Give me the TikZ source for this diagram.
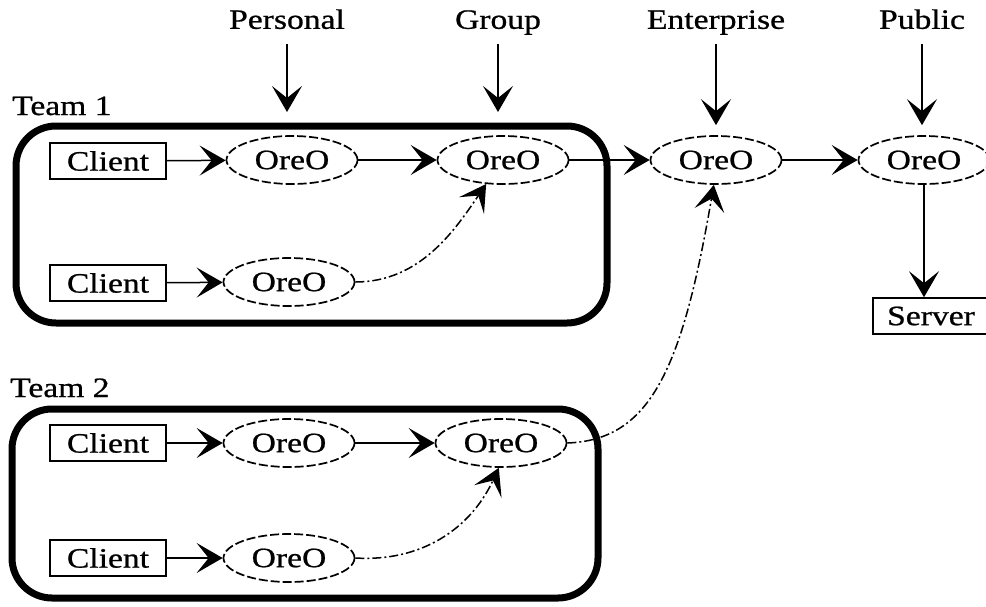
\documentclass[tikz,border=0pt]{standalone}
\usepackage{fontspec}
\newfontfamily\diagfont[FakeStretch=1.2,FakeBold=0.8]{Liberation Serif}
\usetikzlibrary{arrows.meta,shapes.geometric}

\tikzset{
  txt/.style={font=\diagfont\fontsize{28}{32}\selectfont, inner sep=0pt},
  oreo/.style={txt, ellipse, draw, line width=1.7pt, dash pattern=on 9pt off 3pt,
    minimum width=131pt, minimum height=48pt},
  client/.style={txt, rectangle, draw, line width=1.6pt,
    minimum width=116pt, minimum height=36pt},
  teambox/.style={draw, line width=7pt, rounded corners=40pt, inner sep=0pt},
  toplabel/.style={txt, anchor=south, text height=20pt, text depth=7pt},
  tip/.style={-{Stealth[length=26pt,width=30pt,inset=12pt]}},
  flow/.style={tip, line width=1.5pt},
  dflow/.style={tip, line width=1.5pt, dash pattern=on 9pt off 3pt on 2pt off 3pt},
}

\begin{document}
\begin{tikzpicture}[x=1pt,y=-1pt]
\useasboundingbox (0,0) rectangle (986,606);

% team frames
\node[teambox, minimum width=591pt, minimum height=197pt] (team1) at (311.5,224.5) {};
\node[teambox, minimum width=586pt, minimum height=189pt] (team2) at (305,503.5) {};
\node[txt, anchor=base west] (team1lbl) at (12,115) {Team 1};
\node[txt, anchor=base west] (team2lbl) at (10,397) {Team 2};

% level labels
\node[toplabel] (lPers) at (287,36) {Personal};
\node[toplabel] (lGrp)  at (498,36) {Group};
\node[toplabel] (lEnt)  at (716,36) {Enterprise};
\node[toplabel] (lPub)  at (922,36) {Public};
\coordinate (pPers) at (287,112);
\coordinate (pGrp)  at (498,112);

% team 1
\node[client] (c1) at (108,161) {Client};
\node[client] (c2) at (108,283) {Client};
\node[oreo] (o1) at (292,160) {OreO};
\node[oreo] (o2) at (503,160) {OreO};
\node[oreo] (o3) at (289,282) {OreO};

% shared servers
\node[oreo] (oE) at (716,160) {OreO};
\node[oreo] (oP) at (924,160) {OreO};
\node[client] (srv) at (931,316) {Server};

% team 2
\node[client] (c3) at (108,443) {Client};
\node[client] (c4) at (108,558) {Client};
\node[oreo] (o4) at (289,443) {OreO};
\node[oreo] (o5) at (501,443) {OreO};
\node[oreo] (o6) at (289,558) {OreO};

% level arrows
\draw[flow, shorten <=8pt] (lPers.south) -- (pPers);
\draw[flow, shorten <=8pt] (lGrp.south) -- (pGrp);
\draw[flow, shorten <=8pt, shorten >=10pt] (lEnt.south) -- (oE.north);
\draw[flow, shorten <=8pt, shorten >=10pt] (lPub.south) -- (lPub.south |- oP.north);

% team 1 flows
\draw[flow] (c1) -- (o1);
\draw[flow] (o1) -- (o2);
\draw[flow] (o2) -- (oE);
\draw[flow] (c2) -- (o3);
\draw[dflow] (o3.east) .. controls (420,282) and (455,230) .. (o2.-125);

% upstream
\draw[flow] (oE) -- (oP);
\draw[flow] (oP.south) -- (oP.south |- srv.north);

% team 2 flows
\draw[flow] (c3) -- (o4);
\draw[flow] (o4) -- (o5);
\draw[flow] (c4) -- (o6);
\draw[dflow] (o6.east) .. controls (420,562) and (470,530) .. (o5.-95);
\draw[dflow] (o5.east) .. controls (650,440) and (682,370) .. (oE.-95);
\end{tikzpicture}
\end{document}
